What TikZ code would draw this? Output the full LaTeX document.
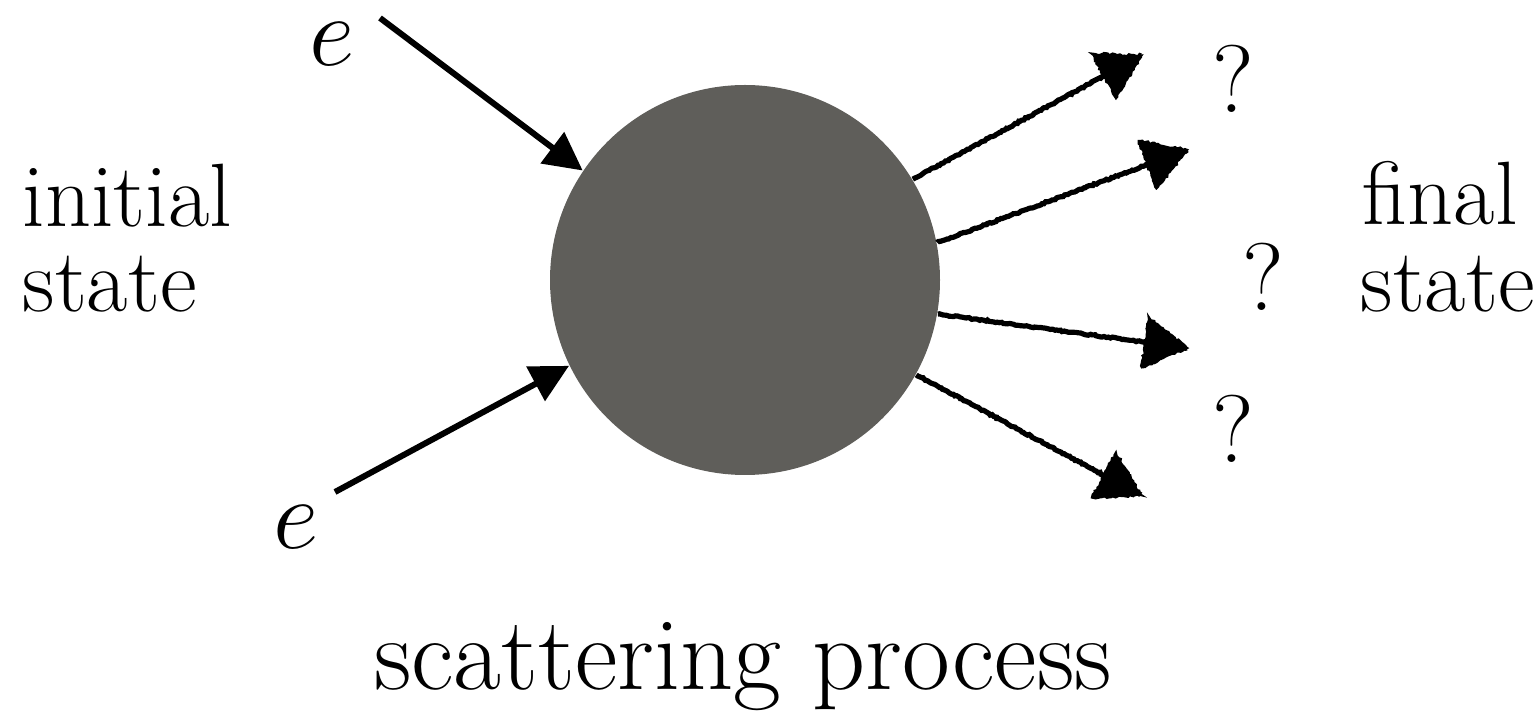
\documentclass[tikz,border=0pt]{standalone}
\usetikzlibrary{arrows.meta,calc,decorations.pathmorphing}
\definecolor{blobgray}{RGB}{95,94,90}
\tikzset{
  px/.style={x=0.25pt,y=-0.25pt},
  label/.style={font=\fontsize{22.5}{26}\selectfont, inner sep=0},
  caption/.style={font=\fontsize{26}{30}\selectfont, inner sep=0},
  qmark/.style={font=\fontsize{24}{28}\selectfont, inner sep=0},
  particle/.style={font=\fontsize{23}{28}\selectfont, inner sep=0},
  inarrow/.style={line width=1.5pt, -{Triangle[length=9.5pt,width=9.5pt]}},
  rough/.style={line width=1.3pt, decorate,
    decoration={random steps, segment length=0.5pt, amplitude=0.18pt}},
  roughhead/.style={fill=black, draw=black, line width=0.6pt, decorate,
    decoration={random steps, segment length=0.6pt, amplitude=0.3pt}},
}
% hand-drawn looking outgoing arrow: wobbly shaft plus a wobbly filled head
\newcommand\sketcharrow[2]{%
  \draw[rough] (#1) -- (#2);
  \path ($(#2)!10.5pt!(#1)$) coordinate (hb);
  \filldraw[roughhead] (#2) -- ($(hb)!6.3pt!90:(#2)$) -- ($(hb)!6.3pt!-90:(#2)$) -- cycle;
}
\begin{document}
\begin{tikzpicture}[px]
\pgfmathsetseed{11}
\useasboundingbox (0,0) rectangle (1533,715);

% interaction region
\node[circle, fill=blobgray, minimum size=97.5pt, inner sep=0] (blob) at (745,280) {};

% incoming electrons
\coordinate (in1) at (380,18);
\coordinate (in2) at (335,492);
\node[particle] (e1) at (332,44) {$e$};
\node[particle] (e2) at (296,527) {$e$};
\draw[inarrow] (in1) -- (blob.146.2);
\draw[inarrow] (in2) -- (blob.206.7);

% outgoing unknown products
\coordinate (o1) at (1141,56);
\coordinate (o2) at (1187,150);
\coordinate (o3) at (1187,348);
\coordinate (o4) at (1141,495);
\sketcharrow{blob.31.7}{o1}
\sketcharrow{blob.11.7}{o2}
\sketcharrow{blob.-10.3}{o3}
\sketcharrow{blob.-29.9}{o4}

\node[qmark, anchor=base] (q1) at (1233,113) {?};
\node[qmark, anchor=base] (q2) at (1263,311) {?};
\node[qmark, anchor=base] (q3) at (1233,463) {?};

% state labels
\node[label, anchor=base west] (init1) at (22,227) {initial};
\node[label, anchor=base west] (init2) at (22,312) {state};
\node[label, anchor=base west] (fin1) at (1362,225) {final};
\node[label, anchor=base west] (fin2) at (1360,312) {state};

\node[caption, anchor=base] (proc) at (743,690) {scattering process};
\end{tikzpicture}
\end{document}
